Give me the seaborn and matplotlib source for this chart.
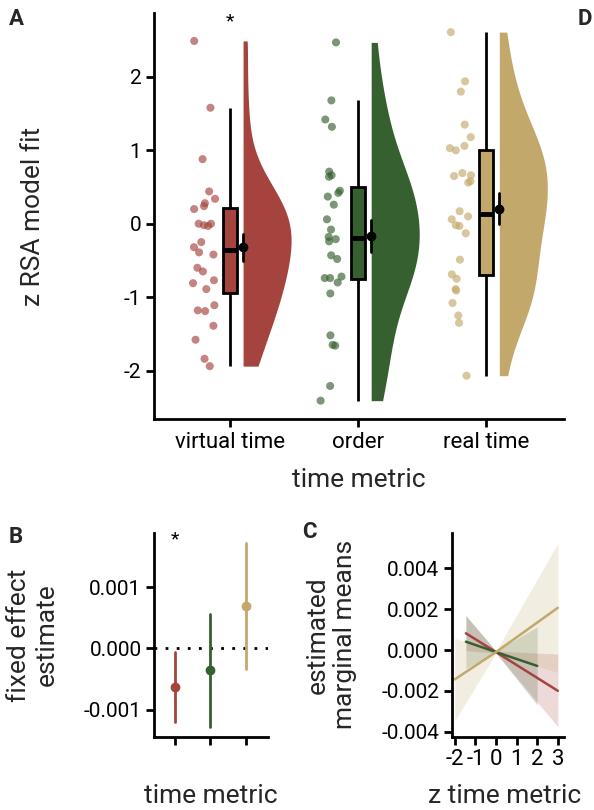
import numpy as np
import pandas as pd
import matplotlib
matplotlib.use("Agg")
import matplotlib.pyplot as plt
import matplotlib.transforms as mtransforms
import seaborn as sns

# categories and colours
metrics = ["virtual time", "order", "real time"]
colors = ["#a5443f", "#36602f", "#c2a86b"]

# panel A: z RSA model fit per participant
virtual_fit = [2.49, 1.58, 0.88, 0.44, 0.34, 0.28, 0.24, 0.20, 0.00, -0.02, -0.03, 0.00,
               -0.25, -0.32, -0.39, -0.42, -0.60, -0.65, -0.77, -0.81, -0.89, -1.11,
               -1.18, -1.19, -1.39, -1.58, -1.84, -1.94]
order_fit = [2.47, 1.68, 1.42, 1.32, 0.71, 0.66, 0.64, 0.45, 0.42, 0.37, 0.26, 0.06,
             -0.08, -0.18, -0.21, -0.24, -0.43, -0.48, -0.74, -0.72, -0.74, -0.80,
             -0.95, -1.52, -1.66, -1.65, -2.21, -2.41]
real_fit = [2.61, 1.94, 1.80, 1.35, 1.18, 1.06, 1.03, 1.00, 0.69, 0.65, 0.66, 0.58,
            0.56, 0.17, 0.10, 0.06, -0.02, -0.03, -0.13, -0.49, -0.69, -0.75, -0.91,
            -0.89, -1.08, -1.25, -1.35, -2.07]

# panel B: fixed effect estimates with 95% CI
est = [-0.00063, -0.000356, 0.00069]
ci_low = [-0.0012, -0.00129, -0.00034]
ci_high = [-0.000056, 0.00057, 0.00173]

# panel C: estimated marginal means
virtual_x = [-1.46, 0.0, 3.0]
virtual_emm = [0.00082, -0.0001, -0.0020]
virtual_lo = [-0.00003, -0.00015, -0.00376]
virtual_hi = [0.00167, -0.00005, -0.0002]
order_x = [-1.46, 0.0, 2.0]
order_emm = [0.00041, -0.0001, -0.00078]
order_lo = [-0.0009, -0.00015, -0.0027]
order_hi = [0.0017, -0.00005, 0.00114]
real_x = [-2.0, 0.0, 3.0]
real_emm = [-0.00144, -0.0001, 0.00207]
real_lo = [-0.00347, -0.00015, -0.0011]
real_hi = [0.00057, -0.00005, 0.00523]

sns.set_theme(style="ticks")
plt.rcParams["font.family"] = ["Roboto", "DejaVu Sans"]
plt.rcParams["axes.unicode_minus"] = False
plt.rcParams["axes.linewidth"] = 2
plt.rcParams["axes.edgecolor"] = "black"
for ax_name in ["xtick", "ytick"]:
    plt.rcParams[f"{ax_name}.major.width"] = 2
    plt.rcParams[f"{ax_name}.major.size"] = 5.5
    plt.rcParams[f"{ax_name}.color"] = "black"
    plt.rcParams[f"{ax_name}.labelcolor"] = "black"
    plt.rcParams[f"{ax_name}.labelsize"] = 15

pal = dict(zip(metrics, colors))
df = pd.DataFrame({
    "metric": np.repeat(metrics, [len(virtual_fit), len(order_fit), len(real_fit)]),
    "fit": virtual_fit + order_fit + real_fit,
})

fig = plt.figure(figsize=(5.94, 8.1), dpi=100)

# %% panel A - raincloud
axA = fig.add_axes([0.2593, 0.4827, 0.6902, 0.5012])

n0 = len(axA.collections)
sns.violinplot(data=df, x="metric", y="fit", hue="metric", palette=pal, saturation=1,
               cut=0, inner=None, linewidth=0, width=0.75, bw_adjust=0.9,
               density_norm="area", legend=False, ax=axA)
# keep the right half only and move it next to the box
for coll in axA.collections[n0:]:
    for p in coll.get_paths():
        v = p.vertices.copy()
        c = np.round((v[:, 0].min() + v[:, 0].max()) / 2)
        v[:, 0] = np.maximum(v[:, 0], c) + 0.105
        p.vertices = v

np.random.seed(7)
n1 = len(axA.collections)
sns.stripplot(data=df, x="metric", y="fit", hue="metric", palette=pal, jitter=0.09,
              size=5.8, alpha=0.65, linewidth=0, legend=False, ax=axA)
shift_left = mtransforms.Affine2D().translate(-0.2, 0) + axA.transData
for coll in axA.collections[n1:]:
    coll.set_offset_transform(shift_left)

sns.boxplot(data=df, x="metric", y="fit", hue="metric", palette=pal, saturation=1,
            width=0.11, showfliers=False, showcaps=False, linecolor="black",
            linewidth=2, medianprops={"linewidth": 3.5}, legend=False, ax=axA)

n2 = len(axA.lines)
sns.pointplot(data=df, x="metric", y="fit", color="black", errorbar="se",
              linestyle="none", markersize=5, err_kws={"linewidth": 2}, ax=axA)
shift_right = mtransforms.Affine2D().translate(0.105, 0) + axA.transData
for ln in axA.lines[n2:]:
    ln.set_transform(shift_right)

axA.text(0, 2.76, "*", ha="center", va="center", fontsize=14, color="black")
axA.set_xlim(-0.59, 2.61)
axA.set_ylim(-2.66, 2.87)
axA.set_yticks([-2, -1, 0, 1, 2])
axA.tick_params(axis="x", labelsize=16)
axA.set_xlabel("time metric", fontsize=19)
axA.set_ylabel("z RSA model fit", fontsize=19)
axA.xaxis.set_label_coords(0.5, -0.15)
axA.xaxis.label.set_va("center")
axA.yaxis.set_label_coords(-0.295, 0.5)
axA.yaxis.label.set_va("center")
sns.despine(ax=axA)

# %% panel B - fixed effects
axB = fig.add_axes([0.2593, 0.0901, 0.1919, 0.2519])
bdf = pd.DataFrame({
    "metric": np.repeat(metrics, 3),
    "value": np.column_stack([ci_low, est, ci_high]).ravel(),
})
axB.axhline(0, color="black", linestyle=(0, (1, 3)), linewidth=2, zorder=1)
sns.pointplot(data=bdf, x="metric", y="value", hue="metric", palette=pal,
              estimator="median", errorbar=("pi", 100), linestyle="none",
              markersize=5, err_kws={"linewidth": 2}, legend=False, ax=axB)
axB.text(0, 0.00179, "*", ha="center", va="center", fontsize=14, color="black")
axB.set_xlim(-0.6, 2.63)
axB.set_ylim(-0.00145, 0.00189)
axB.set_yticks([-0.001, 0.0, 0.001])
axB.set_yticklabels(["-0.001", "0.000", "0.001"])
axB.set_xticks([0, 1, 2])
axB.set_xticklabels(["", "", ""])
axB.set_xlabel("time metric", fontsize=19)
axB.set_ylabel("fixed effect\nestimate", fontsize=19)
axB.xaxis.set_label_coords(0.5, -0.29)
axB.xaxis.label.set_va("center")
axB.yaxis.set_label_coords(-1.06, 0.5)
axB.yaxis.label.set_va("center")
sns.despine(ax=axB)

# %% panel C - marginal means
axC = fig.add_axes([0.7604, 0.0905, 0.1891, 0.2518])
cdf = pd.DataFrame({
    "metric": np.repeat(metrics, 3),
    "z": virtual_x + order_x + real_x,
    "emm": virtual_emm + order_emm + real_emm,
    "lo": virtual_lo + order_lo + real_lo,
    "hi": virtual_hi + order_hi + real_hi,
})
for m in metrics:
    sub = cdf[cdf["metric"] == m]
    axC.fill_between(sub["z"], sub["lo"], sub["hi"], color=pal[m], alpha=0.2, linewidth=0)
sns.lineplot(data=cdf, x="z", y="emm", hue="metric", palette=pal, linewidth=1.8,
             errorbar=None, legend=False, ax=axC)
axC.set_xlim(-2.15, 3.3)
axC.set_ylim(-0.00425, 0.00575)
axC.set_xticks([-2, -1, 0, 1, 2, 3])
axC.tick_params(axis="x", labelsize=16)
axC.set_yticks([-0.004, -0.002, 0.0, 0.002, 0.004])
axC.set_yticklabels(["-0.004", "-0.002", "0.000", "0.002", "0.004"])
axC.set_xlabel("z time metric", fontsize=19)
axC.set_ylabel("estimated\nmarginal means", fontsize=19)
axC.xaxis.set_label_coords(0.47, -0.29)
axC.xaxis.label.set_va("center")
axC.yaxis.set_label_coords(-1.07, 0.5)
axC.yaxis.label.set_va("center")
sns.despine(ax=axC)

# panel letters
for lab, x, y in [("A", 0.028, 0.976), ("B", 0.026, 0.337), ("C", 0.520, 0.343), ("D", 0.984, 0.976)]:
    fig.text(x, y, lab, fontsize=16, fontweight="bold", ha="center", va="center")

fig.savefig("out.png", dpi=100)
